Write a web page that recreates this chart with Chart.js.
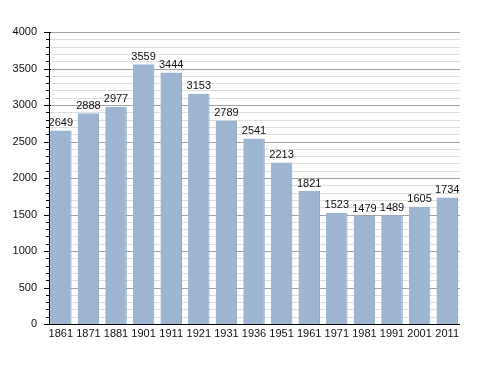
<!DOCTYPE html>
<html>
<head>
<meta charset="utf-8">
<script src="https://cdn.jsdelivr.net/npm/chart.js@4"></script>
<style>
  html, body { margin: 0; padding: 0; background: #fff; }
  #wrap { width: 488px; height: 373px; }
</style>
</head>
<body>
<div id="wrap"><canvas id="myChart" width="488" height="373"></canvas></div>
<script>
const years = ['1861', '1871', '1881', '1901', '1911', '1921', '1931', '1936', '1951', '1961', '1971', '1981', '1991', '2001', '2011'];
const population = [2649, 2888, 2977, 3559, 3444, 3153, 2789, 2541, 2213, 1821, 1523, 1479, 1489, 1605, 1734];
const yMin = 0;
const yMax = 4000;
const minorStep = 100;
const majorStep = 500;

const font = { family: '"Liberation Sans", Arial, sans-serif', size: 11 };

// grid lines, axis lines and tick marks, drawn under the bars
const axisPlugin = {
    id: 'axisLines',
    beforeDatasetsDraw(chart) {
        const c = chart.ctx;
        const y = chart.scales.y;
        const area = chart.chartArea;
        const left = area.left + 2;
        const right = area.right - 1;
        c.save();
        for (let v = yMin; v <= yMax; v += minorStep) {
            const py = Math.round(y.getPixelForValue(v)) + 0.5;
            const major = v % majorStep === 0;
            if (v > yMin) {
                c.strokeStyle = major ? '#a3a3a3' : '#dedede';
                c.lineWidth = 1;
                c.beginPath();
                c.moveTo(left, py);
                c.lineTo(right, py);
                c.stroke();
            }
            c.strokeStyle = '#000';
            c.beginPath();
            c.moveTo(left - (major ? 5 : 3), py);
            c.lineTo(left + (major ? 2 : 0), py);
            c.stroke();
        }
        c.restore();
    },
    afterDatasetsDraw(chart) {
        const c = chart.ctx;
        const y = chart.scales.y;
        const area = chart.chartArea;
        const left = area.left + 2.5;
        const bottom = Math.round(y.getPixelForValue(yMin)) + 0.5;
        c.save();
        c.strokeStyle = '#000';
        c.lineWidth = 1;
        c.beginPath();
        c.moveTo(left, Math.round(y.getPixelForValue(yMax)));
        c.lineTo(left, bottom);
        c.lineTo(area.right - 1, bottom);
        c.stroke();

        // value labels on top of each bar
        c.fillStyle = '#111';
        c.font = font.size + 'px ' + font.family;
        c.textAlign = 'center';
        c.textBaseline = 'bottom';
        chart.getDatasetMeta(0).data.forEach((bar, i) => {
            c.fillText(String(population[i]), bar.x, bar.y - 2);
        });
        c.restore();
    }
};

const ctx = document.getElementById('myChart').getContext('2d');
let myChart = new Chart(ctx, {
    type: 'bar',
    data: {
        labels: years,
        datasets: [
            {
                data: population,
                backgroundColor: '#9db5d1',
                borderColor: '#8aa1bd',
                borderWidth: { top: 0, left: 0, bottom: 0, right: 1 },
                borderSkipped: false,
                categoryPercentage: 1,
                barPercentage: 0.78
            }
        ]
    },
    options: {
        responsive: false,
        animation: false,
        devicePixelRatio: 1,
        layout: { padding: { top: 32, right: 27, left: 0, bottom: 0 } },
        plugins: {
            legend: { display: false },
            tooltip: { enabled: false }
        },
        scales: {
            x: {
                grid: { display: false, drawTicks: false },
                border: { display: false },
                ticks: { color: '#111', font: font, padding: 3, maxRotation: 0, autoSkip: false },
                afterFit: s => { s.height = 49; }
            },
            y: {
                min: yMin,
                max: yMax,
                grid: { display: false, drawTicks: false },
                border: { display: false },
                ticks: {
                    stepSize: minorStep,
                    maxTicksLimit: 100,
                    autoSkip: false,
                    color: '#111',
                    font: font,
                    padding: 10,
                    callback: v => (v % majorStep === 0 ? String(v) : '')
                },
                afterFit: s => { s.width = 47; }
            }
        }
    },
    plugins: [axisPlugin]
});
</script>
</body>
</html>
